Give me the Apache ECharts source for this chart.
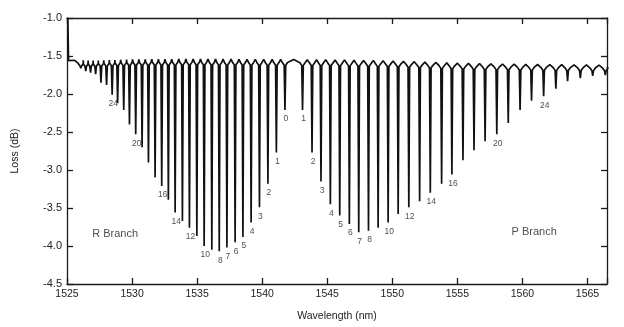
<!DOCTYPE html>
<html>
<head>
<meta charset="utf-8">
<script src="https://cdn.jsdelivr.net/npm/echarts@6/dist/echarts.min.js"></script>
<style>
  html, body { margin: 0; padding: 0; background: #ffffff; }
  #chart { width: 624px; height: 327px; }
</style>
</head>
<body>
<div id="chart"></div>
<script>
// H13CN absorption lines, R and P branches: centre wavelength (nm) and loss at line centre (dB)
const rJ = [0, 1, 2, 3, 4, 5, 6, 7, 8, 9, 10, 11, 12, 13, 14, 15, 16, 17, 18, 19, 20, 21, 22, 23, 24, 25, 26, 27, 28, 29, 30];
const rWavelength = [1541.75, 1541.09, 1540.44, 1539.79, 1539.15, 1538.52, 1537.92, 1537.29, 1536.70, 1536.13, 1535.54, 1534.98, 1534.41, 1533.87, 1533.31, 1532.79, 1532.28, 1531.77, 1531.26, 1530.77, 1530.28, 1529.80, 1529.36, 1528.89, 1528.47, 1528.04, 1527.61, 1527.20, 1526.81, 1526.44, 1526.06];
const rLoss = [-2.21, -2.77, -3.18, -3.49, -3.69, -3.88, -3.95, -4.02, -4.07, -4.05, -4.00, -3.87, -3.76, -3.67, -3.56, -3.39, -3.21, -3.10, -2.90, -2.70, -2.53, -2.40, -2.21, -2.12, -2.01, -1.88, -1.85, -1.74, -1.72, -1.70, -1.66];

const pJ = [1, 2, 3, 4, 5, 6, 7, 8, 9, 10, 11, 12, 13, 14, 15, 16, 17, 18, 19, 20, 21, 22, 23, 24, 25, 26, 27, 28, 29];
const pWavelength = [1543.10, 1543.83, 1544.52, 1545.24, 1545.96, 1546.70, 1547.42, 1548.17, 1548.91, 1549.68, 1550.45, 1551.27, 1552.10, 1552.92, 1553.79, 1554.58, 1555.43, 1556.28, 1557.13, 1558.03, 1558.91, 1559.82, 1560.70, 1561.63, 1562.57, 1563.47, 1564.45, 1565.40, 1566.37];
const pLoss = [-2.21, -2.77, -3.15, -3.45, -3.60, -3.71, -3.82, -3.80, -3.76, -3.69, -3.58, -3.49, -3.41, -3.30, -3.18, -3.06, -2.87, -2.74, -2.62, -2.53, -2.38, -2.21, -2.09, -2.03, -1.93, -1.83, -1.79, -1.76, -1.75];

// rotational numbers that carry a label
const rLabelled = [0, 1, 2, 3, 4, 5, 6, 7, 8, 10, 12, 14, 16, 20, 24];
const pLabelled = [1, 2, 3, 4, 5, 6, 7, 8, 10, 12, 14, 16, 20, 24];

// off-line background loss (dB) at a few wavelengths
const baselineNm = [1525.15, 1527.0, 1530.0, 1535.0, 1540.0, 1545.0, 1550.0, 1555.0, 1560.0, 1566.5];
const baselineDb = [-1.58, -1.585, -1.57, -1.565, -1.57, -1.575, -1.59, -1.62, -1.635, -1.645];

// trace start: detector edge
const traceStart = [[1525.06, -1.0], [1525.12, -1.56]];

const branchNames = ['R Branch', 'P Branch'];
const branchNamePos = [[1528.7, -3.84], [1560.9, -3.82]];

const xMin = 1525, xMax = 1566.5, xStep = 5;
const yMin = -4.5, yMax = -1.0, yStep = 0.5;

function baseAt(nm) {
  if (nm <= baselineNm[0]) return baselineDb[0];
  for (let i = 1; i < baselineNm.length; i++) {
    if (nm <= baselineNm[i]) {
      const t = (nm - baselineNm[i - 1]) / (baselineNm[i] - baselineNm[i - 1]);
      return baselineDb[i - 1] + t * (baselineDb[i] - baselineDb[i - 1]);
    }
  }
  return baselineDb[baselineDb.length - 1];
}

// all lines sorted by wavelength
const lines = [];
rWavelength.forEach((w, i) => lines.push([w, rLoss[i]]));
pWavelength.forEach((w, i) => lines.push([w, pLoss[i]]));
lines.sort((a, b) => a[0] - b[0]);

// spectrum trace: background with a narrow dip at every line
const trace = traceStart.slice();
let prev = traceStart[traceStart.length - 1][0];
lines.forEach(([w, loss]) => {
  const mid = (prev + w) / 2;
  trace.push([mid, baseAt(mid) + 0.025]);
  const b = baseAt(w);
  trace.push([w - 0.2, b - 0.015]);
  trace.push([w - 0.06, b - 0.05]);
  trace.push([w, loss]);
  trace.push([w + 0.06, b - 0.05]);
  trace.push([w + 0.2, b - 0.015]);
  prev = w;
});
trace.push([xMax, baseAt(xMax)]);

// line labels
const labelData = [];
rLabelled.forEach(j => { const i = rJ.indexOf(j); labelData.push([rWavelength[i], rLoss[i], String(j)]); });
pLabelled.forEach(j => { const i = pJ.indexOf(j); labelData.push([pWavelength[i], pLoss[i], String(j)]); });

const branchData = branchNames.map((n, i) => [branchNamePos[i][0], branchNamePos[i][1], n]);

const font = '"Liberation Sans", Arial, Helvetica, sans-serif';
const axisColor = '#1a1a1a';

const chart = echarts.init(document.getElementById('chart'), null, { renderer: 'canvas' });

const baseX = {
  type: 'value', min: xMin, max: xMax, interval: xStep,
  axisLine: { show: true, onZero: false, lineStyle: { color: axisColor, width: 1.3 } },
  axisTick: { show: true, inside: true, length: 6, lineStyle: { color: axisColor, width: 1.3 } },
  splitLine: { show: false }
};
const baseY = {
  type: 'value', min: yMin, max: yMax, interval: yStep,
  axisLine: { show: true, onZero: false, lineStyle: { color: axisColor, width: 1.3 } },
  axisTick: { show: true, inside: true, length: 6, lineStyle: { color: axisColor, width: 1.3 } },
  splitLine: { show: false }
};

chart.setOption({
  animation: false,
  backgroundColor: '#ffffff',
  textStyle: { fontFamily: font },
  grid: { left: 67, right: 17, top: 18, bottom: 42, containLabel: false },
  xAxis: [
    Object.assign({}, baseX, {
      position: 'bottom',
      name: 'Wavelength (nm)', nameLocation: 'middle', nameGap: 27,
      nameTextStyle: { fontSize: 10.5, color: '#222', fontFamily: font },
      axisLabel: {
        show: true, margin: 5, fontSize: 10.5, color: '#222', fontFamily: font,
        formatter: v => (Math.abs(v / xStep - Math.round(v / xStep)) < 1e-6 ? String(v) : '')
      }
    }),
    Object.assign({}, baseX, { position: 'top', axisLabel: { show: false } })
  ],
  yAxis: [
    Object.assign({}, baseY, {
      position: 'left',
      name: 'Loss (dB)', nameLocation: 'middle', nameGap: 46, nameRotate: 90,
      nameTextStyle: { fontSize: 10.5, color: '#222', fontFamily: font },
      axisLabel: { show: true, margin: 5, fontSize: 11, color: '#222', fontFamily: font, formatter: v => v.toFixed(1) }
    }),
    Object.assign({}, baseY, { position: 'right', axisLabel: { show: false } })
  ],
  series: [
    {
      type: 'line', data: trace, xAxisIndex: 0, yAxisIndex: 0,
      showSymbol: false, symbol: 'none', clip: true,
      lineStyle: { color: '#111111', width: 1.7 },
      silent: true
    },
    {
      type: 'scatter', data: labelData, xAxisIndex: 0, yAxisIndex: 0,
      symbolSize: 1, itemStyle: { color: 'rgba(0,0,0,0)' },
      label: {
        show: true, position: 'bottom', distance: 4, offset: [1, 0],
        fontSize: 8.5, color: '#222', fontFamily: font,
        formatter: p => p.data[2]
      },
      silent: true
    },
    {
      type: 'scatter', data: branchData, xAxisIndex: 0, yAxisIndex: 0,
      symbolSize: 1, itemStyle: { color: 'rgba(0,0,0,0)' },
      label: {
        show: true, position: 'inside',
        fontSize: 11, color: '#222', fontFamily: font,
        formatter: p => p.data[2]
      },
      silent: true
    }
  ]
});
</script>
</body>
</html>
